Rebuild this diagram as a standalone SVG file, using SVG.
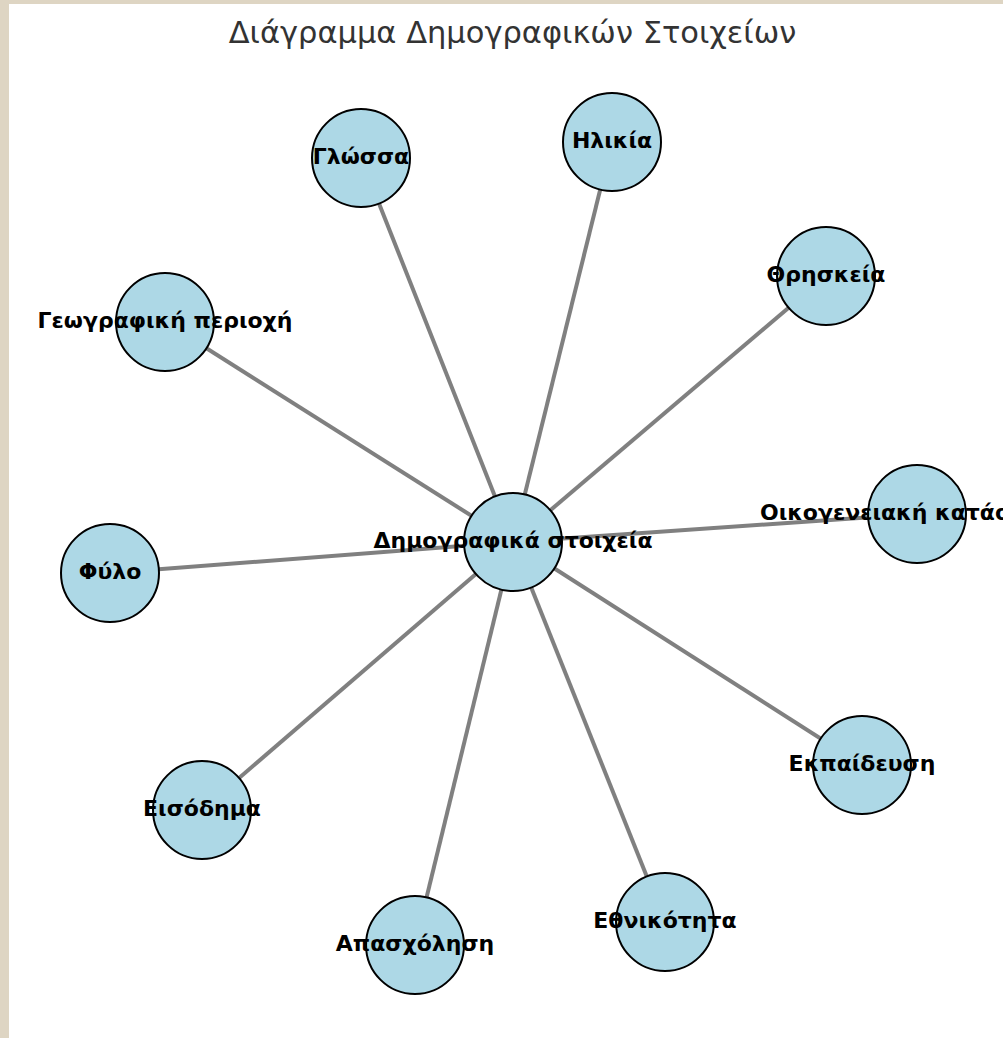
<svg xmlns="http://www.w3.org/2000/svg" width="1003" height="1038" viewBox="0 0 1003 1038">
<style>
.edge{stroke:#808080;stroke-width:4;stroke-linecap:butt}
.node circle{fill:#ADD8E6;stroke:#000;stroke-width:2}
.node text{font-family:"DejaVu Sans",sans-serif;font-weight:bold;font-size:22px;fill:#000;text-anchor:middle}
.title{font-family:"DejaVu Sans",sans-serif;font-size:30.5px;fill:#333;text-anchor:middle}
</style>
<rect x="0" y="0" width="1003" height="1038" fill="#DED5C3"/>
<rect x="9" y="4" width="994" height="1034" fill="#fff"/>
<text class="title" x="512.5" y="43">Διάγραμμα Δημογραφικών Στοιχείων</text>
<g id="edges">
<line class="edge" x1="513" y1="542" x2="612" y2="142"/>
<line class="edge" x1="513" y1="542" x2="361" y2="158"/>
<line class="edge" x1="513" y1="542" x2="826" y2="276"/>
<line class="edge" x1="513" y1="542" x2="165" y2="322"/>
<line class="edge" x1="513" y1="542" x2="917" y2="514"/>
<line class="edge" x1="513" y1="542" x2="110" y2="573"/>
<line class="edge" x1="513" y1="542" x2="862" y2="765"/>
<line class="edge" x1="513" y1="542" x2="202" y2="810"/>
<line class="edge" x1="513" y1="542" x2="665" y2="922"/>
<line class="edge" x1="513" y1="542" x2="415" y2="945"/>
</g>
<g id="n-center" class="node"><circle cx="513" cy="542" r="49"/></g>
<g id="n-age" class="node"><circle cx="612" cy="142" r="49"/></g>
<g id="n-lang" class="node"><circle cx="361" cy="158" r="49"/></g>
<g id="n-rel" class="node"><circle cx="826" cy="276" r="49"/></g>
<g id="n-geo" class="node"><circle cx="165" cy="322" r="49"/></g>
<g id="n-fam" class="node"><circle cx="917" cy="514" r="49"/></g>
<g id="n-sex" class="node"><circle cx="110" cy="573" r="49"/></g>
<g id="n-edu" class="node"><circle cx="862" cy="765" r="49"/></g>
<g id="n-inc" class="node"><circle cx="202" cy="810" r="49"/></g>
<g id="n-eth" class="node"><circle cx="665" cy="922" r="49"/></g>
<g id="n-occ" class="node"><circle cx="415" cy="945" r="49"/></g>
<g id="labels" class="node">
<text x="513" y="547.5">Δημογραφικά στοιχεία</text>
<text x="612" y="147.5">Ηλικία</text>
<text x="361" y="163.5">Γλώσσα</text>
<text x="826" y="281.5">Θρησκεία</text>
<text x="165" y="327.5">Γεωγραφική περιοχή</text>
<text x="917" y="519.5">Οικογενειακή κατάσταση</text>
<text x="110" y="578.5">Φύλο</text>
<text x="862" y="770.5">Εκπαίδευση</text>
<text x="202" y="815.5">Εισόδημα</text>
<text x="665" y="927.5">Εθνικότητα</text>
<text x="415" y="950.5">Απασχόληση</text>
</g>
</svg>
